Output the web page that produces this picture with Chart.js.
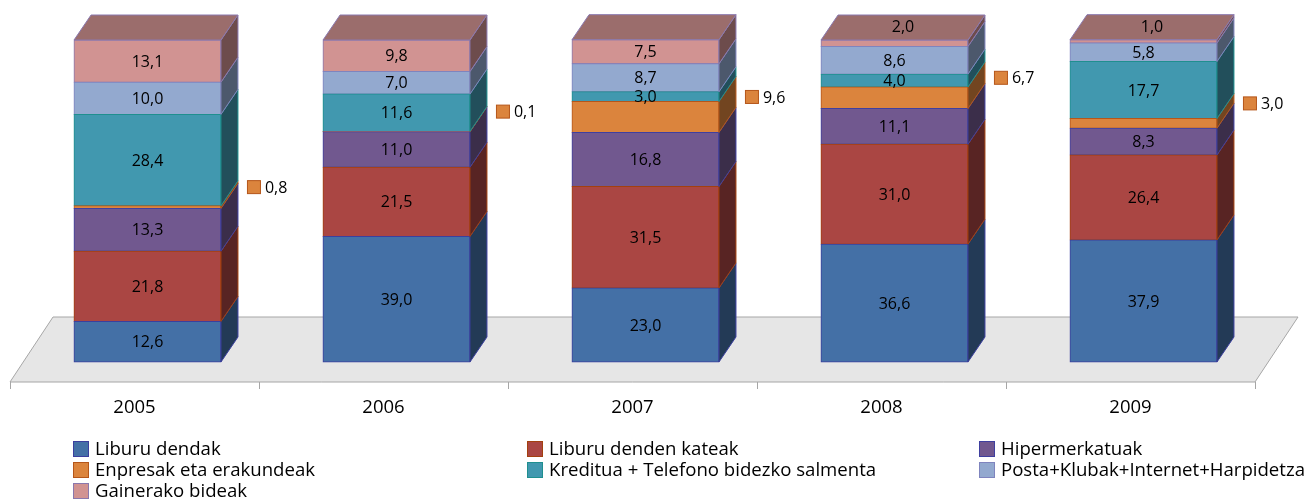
<!DOCTYPE html>
<html>
<head>
<meta charset="utf-8">
<script src="https://cdn.jsdelivr.net/npm/chart.js@4.4.1/dist/chart.umd.min.js"></script>
<style>
  html, body { margin: 0; padding: 0; background: #fff; }
  #wrap { width: 1312px; height: 503px; }
</style>
</head>
<body>
<div id="wrap"><canvas id="salmentaChart" width="1312" height="503"></canvas></div>
<script>
// Urteak eta salmenta bideen ehunekoak
const years = ['2005', '2006', '2007', '2008', '2009'];
const liburuDendak = [12.6, 39.0, 23.0, 36.6, 37.9];
const dendenKateak = [21.8, 21.5, 31.5, 31.0, 26.4];
const hipermerkatuak = [13.3, 11.0, 16.8, 11.1, 8.3];
const enpresak = [0.8, 0.1, 9.6, 6.7, 3.0];
const kreditua = [28.4, 11.6, 3.0, 4.0, 17.7];
const posta = [10.0, 7.0, 8.7, 8.6, 5.8];
const gainerakoak = [13.1, 9.8, 7.5, 2.0, 1.0];

const series = [
  { label: 'Liburu dendak', data: liburuDendak, color: '#4470a6', border: '#3b3f9e' },
  { label: 'Liburu denden kateak', data: dendenKateak, color: '#aa4643', border: '#a3400f' },
  { label: 'Hipermerkatuak', data: hipermerkatuak, color: '#71588f', border: '#3f3f9f' },
  { label: 'Enpresak eta erakundeak', data: enpresak, color: '#db843d', border: '#b5561a', outside: true },
  { label: 'Kreditua + Telefono bidezko salmenta', data: kreditua, color: '#4198af', border: '#1f8f8f' },
  { label: 'Posta+Klubak+Internet+Harpidetza', data: posta, color: '#93a9cf', border: '#7f84be' },
  { label: 'Gainerako bideak', data: gainerakoak, color: '#d19392', border: '#8a78ae' }
];

// 3D sakonera
const DX = 17, DY = 25;
const FONT = '"Open Sans", "Noto Sans", sans-serif';

function shade(hex, f) {
  const n = parseInt(hex.slice(1), 16);
  const r = Math.round(((n >> 16) & 255) * f);
  const g = Math.round(((n >> 8) & 255) * f);
  const b = Math.round((n & 255) * f);
  return 'rgb(' + r + ',' + g + ',' + b + ')';
}

function fmt(v) {
  return v.toFixed(1).replace('.', ',');
}

function poly(ctx, pts, fill, stroke) {
  ctx.beginPath();
  ctx.moveTo(pts[0][0], pts[0][1]);
  for (let i = 1; i < pts.length; i++) ctx.lineTo(pts[i][0], pts[i][1]);
  ctx.closePath();
  ctx.fillStyle = fill;
  ctx.fill();
  if (stroke) {
    ctx.strokeStyle = stroke;
    ctx.lineWidth = 1;
    ctx.stroke();
  }
}

// Zorua eta ardatzeko etiketak
const floorPlugin = {
  id: 'floor3d',
  beforeDatasetsDraw(chart) {
    const ctx = chart.ctx;
    const xs = chart.scales.x, ys = chart.scales.y;
    const base = ys.getPixelForValue(0);
    const fy = base + 20, by = base - 45;
    ctx.save();
    poly(ctx, [
      [xs.left - 13, fy], [xs.right - 13, fy],
      [xs.right + 30, by], [xs.left + 30, by]
    ], '#e6e6e6', '#a6a6a6');
    const step = (xs.right - xs.left) / years.length;
    ctx.strokeStyle = '#a6a6a6';
    ctx.lineWidth = 1;
    for (let i = 0; i <= years.length; i++) {
      const x = Math.round(xs.left - 13 + i * step) + 0.5;
      ctx.beginPath();
      ctx.moveTo(x, fy);
      ctx.lineTo(x, fy + 7);
      ctx.stroke();
    }
    ctx.fillStyle = '#000';
    ctx.font = '18.5px ' + FONT;
    ctx.textAlign = 'center';
    ctx.textBaseline = 'middle';
    years.forEach((y, i) => {
      ctx.fillText(y, xs.getPixelForValue(i) - 13, fy + 26);
    });
    ctx.restore();
  }
};

// Alboko eta goiko aurpegiak, balio etiketak eta legenda
const sidesPlugin = {
  id: 'sides3d',
  afterDatasetsDraw(chart) {
    const ctx = chart.ctx;
    ctx.save();
    const n = years.length;
    for (let i = 0; i < n; i++) {
      let topIdx = -1;
      chart.data.datasets.forEach((ds, d) => {
        const el = chart.getDatasetMeta(d).data[i];
        const s = series[d];
        const right = el.x + el.width / 2;
        const top = Math.min(el.y, el.base), bot = Math.max(el.y, el.base);
        poly(ctx, [[right, top], [right + DX, top - DY], [right + DX, bot - DY], [right, bot]],
          shade(s.color, 0.52), s.border);
        if (ds.data[i] > 0) topIdx = d;
      });
      const tEl = chart.getDatasetMeta(topIdx).data[i];
      const tl = tEl.x - tEl.width / 2, tr = tEl.x + tEl.width / 2, ty = Math.min(tEl.y, tEl.base);
      poly(ctx, [[tl, ty], [tr, ty], [tr + DX, ty - DY], [tl + DX, ty - DY]],
        shade(series[topIdx].color, 0.74), series[topIdx].border);

      // balio etiketak
      chart.data.datasets.forEach((ds, d) => {
        const el = chart.getDatasetMeta(d).data[i];
        const s = series[d];
        const v = ds.data[i];
        const top = Math.min(el.y, el.base), bot = Math.max(el.y, el.base);
        const mid = (top + bot) / 2;
        const right = el.x + el.width / 2;
        ctx.font = '16px ' + FONT;
        ctx.textBaseline = 'middle';
        ctx.fillStyle = '#000';
        if (s.outside) {
          const ly = mid - 20;
          ctx.fillStyle = s.color;
          ctx.fillRect(right + 26.5, ly - 6.5, 13, 13);
          ctx.strokeStyle = s.border;
          ctx.lineWidth = 1;
          ctx.strokeRect(right + 26.5, ly - 6.5, 13, 13);
          ctx.fillStyle = '#000';
          ctx.textAlign = 'left';
          ctx.fillText(fmt(v), right + 44, ly + 1);
        } else {
          ctx.textAlign = 'center';
          if (d === topIdx && bot - top < 14) {
            ctx.fillText(fmt(v), el.x + DX / 2, top - DY / 2);
          } else {
            ctx.fillText(fmt(v), el.x, mid + 1);
          }
        }
      });
    }
    ctx.restore();
  },
  afterDraw(chart) {
    const ctx = chart.ctx;
    const cols = [73, 527, 979];
    const rows = [449, 470, 491];
    ctx.save();
    ctx.font = '18.6px ' + FONT;
    ctx.textAlign = 'left';
    ctx.textBaseline = 'middle';
    series.forEach((s, k) => {
      const x = cols[k % 3], y = rows[Math.floor(k / 3)];
      ctx.fillStyle = s.color;
      ctx.fillRect(x + 0.5, y - 7.5, 15, 15);
      ctx.strokeStyle = s.border;
      ctx.lineWidth = 1;
      ctx.strokeRect(x + 0.5, y - 7.5, 15, 15);
      ctx.fillStyle = '#000';
      ctx.fillText(s.label, x + 22, y + 1);
    });
    ctx.restore();
  }
};

new Chart(document.getElementById('salmentaChart'), {
  type: 'bar',
  data: {
    labels: years,
    datasets: series.map(s => ({
      label: s.label,
      data: s.data,
      backgroundColor: s.color,
      borderColor: s.border,
      borderWidth: 1,
      borderSkipped: false,
      inflateAmount: 0.5,
      barPercentage: 0.59,
      categoryPercentage: 1,
      clip: false
    }))
  },
  options: {
    responsive: false,
    animation: false,
    devicePixelRatio: 1,
    layout: { padding: { left: 23, right: 44, top: 40, bottom: 141 } },
    plugins: {
      legend: { display: false },
      tooltip: { enabled: false }
    },
    scales: {
      x: { stacked: true, display: false, offset: true },
      y: { stacked: true, display: false, min: 0, max: 100 }
    }
  },
  plugins: [floorPlugin, sidesPlugin]
});
</script>
</body>
</html>
